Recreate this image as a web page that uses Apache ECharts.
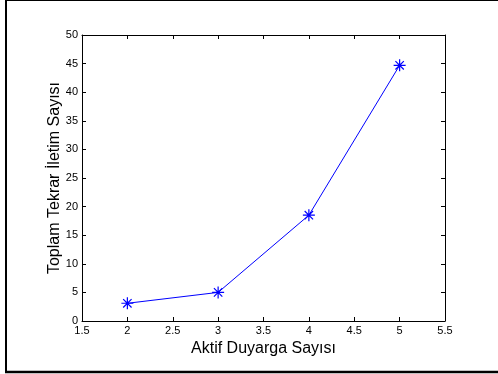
<!DOCTYPE html>
<html>
<head>
<meta charset="utf-8">
<script src="https://cdn.jsdelivr.net/npm/echarts@6/dist/echarts.min.js"></script>
<style>
  html, body { margin: 0; padding: 0; background: #fff; }
  #chart { width: 498px; height: 374px; }
</style>
</head>
<body>
<div id="chart"></div>
<script>
// Active sensor count vs. total retransmission count
const sensorCounts = [2, 3, 4, 5];
const retransmissions = [3.1, 5.0, 18.5, 44.7];
const xTitle = 'Aktif Duyarga Sayısı';
const yTitle = 'Toplam Tekrar İletim Sayısı';

const FONT = 'Liberation Sans, Arial, sans-serif';
const BLUE = '#0000ff';

// Asterisk marker: a "+" overlaid with an "x", stroked
const asterisk = 'path://M0,5L10,5M5,0L5,10M1.5,1.5L8.5,8.5M8.5,1.5L1.5,8.5';

const chart = echarts.init(document.getElementById('chart'), null, { renderer: 'canvas' });

const boxAxis = {
  axisLine: { show: true, onZero: false, lineStyle: { color: '#000', width: 1 } },
  axisTick: { show: true, inside: true, length: 4, lineStyle: { color: '#000', width: 1 } },
  splitLine: { show: false }
};

chart.setOption({
  animation: false,
  backgroundColor: '#fff',
  grid: { left: 82, top: 35, width: 363, height: 286, containLabel: false },
  xAxis: [
    Object.assign({
      type: 'value', position: 'bottom', min: 1.5, max: 5.5, interval: 0.5,
      name: xTitle, nameLocation: 'middle', nameGap: 18,
      nameTextStyle: { fontFamily: FONT, fontSize: 16, color: '#000' },
      axisLabel: { fontFamily: FONT, fontSize: 11, color: '#000', margin: 4 }
    }, boxAxis),
    Object.assign({
      type: 'value', position: 'top', min: 1.5, max: 5.5, interval: 0.5,
      axisLabel: { show: false }
    }, boxAxis)
  ],
  yAxis: [
    Object.assign({
      type: 'value', position: 'left', min: 0, max: 50, interval: 5,
      name: yTitle, nameLocation: 'middle', nameGap: 19, nameMoveOverlap: false,
      nameTextStyle: { fontFamily: FONT, fontSize: 16, color: '#000' },
      axisLabel: { fontFamily: FONT, fontSize: 11, color: '#000', margin: 4 }
    }, boxAxis),
    Object.assign({
      type: 'value', position: 'right', min: 0, max: 50, interval: 5,
      axisLabel: { show: false }
    }, boxAxis)
  ],
  series: [{
    type: 'line',
    xAxisIndex: 0,
    yAxisIndex: 0,
    data: sensorCounts.map((x, i) => [x, retransmissions[i]]),
    lineStyle: { color: BLUE, width: 1 },
    symbol: asterisk,
    symbolSize: 12,
    showAllSymbol: true,
    itemStyle: { color: 'rgba(0,0,0,0)', borderColor: BLUE, borderWidth: 1.2 },
    emphasis: { disabled: true }
  }],
  graphic: [
    // page frame: left, top and bottom rules
    { type: 'line', shape: { x1: 6, y1: 0, x2: 6, y2: 373 }, style: { stroke: '#000', lineWidth: 2 }, silent: true },
    { type: 'line', shape: { x1: 5, y1: 0.5, x2: 498, y2: 0.5 }, style: { stroke: '#000', lineWidth: 1 }, silent: true },
    { type: 'line', shape: { x1: 5, y1: 372, x2: 498, y2: 372 }, style: { stroke: '#000', lineWidth: 2.5 }, silent: true }
  ]
});
</script>
</body>
</html>
